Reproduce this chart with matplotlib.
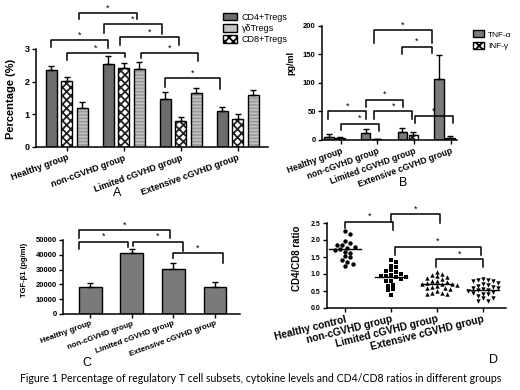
import matplotlib
matplotlib.use("Agg")
import matplotlib.pyplot as plt
import numpy as np

plt.rcParams['font.family'] = ['Liberation Sans', 'DejaVu Sans']
plt.rcParams['hatch.linewidth'] = 1.3

groups = ['Healthy group', 'non-cGVHD group', 'Limited cGVHD group', 'Extensive cGVHD group']
d_groups = ['Healthy control', 'non-cGVHD group', 'Limited cGVHD group', 'Extensive cGVHD group']

# panel A: Treg percentages
cd4_tregs = [2.35, 2.55, 1.48, 1.09]
cd4_err = [0.12, 0.22, 0.20, 0.13]
cd8_tregs = [2.02, 2.42, 0.81, 0.87]
cd8_err = [0.12, 0.14, 0.10, 0.15]
gd_tregs = [1.20, 2.38, 1.65, 1.58]
gd_err = [0.17, 0.22, 0.15, 0.17]

# panel B: cytokines (pg/ml)
tnf = [6, 13, 14.5, 107]
tnf_err = [4, 7, 7, 42]
inf = [3.5, 1.2, 8, 4]
inf_err = [1.5, 0.5, 6.5, 3]

# panel C: TGF-b1
tgf = [18000, 41000, 30400, 18500]
tgf_err = [2700, 2700, 4300, 3300]

# panel D: CD4/CD8 ratio per patient
ratio_healthy = [2.27, 2.18, 1.97, 1.9, 1.86, 1.85, 1.8, 1.76, 1.74, 1.7, 1.65, 1.63,
                 1.52, 1.5, 1.4, 1.36, 1.3, 1.24]
ratio_non = [1.4, 1.36, 1.25, 1.22, 1.12, 1.1, 1.05, 1.0, 0.97, 0.95, 0.94, 0.92, 0.9,
             0.85, 0.8, 0.8, 0.68, 0.65, 0.55, 0.52, 0.37]
ratio_limited = [1.07, 1.0, 0.97, 0.93, 0.9, 0.88, 0.85, 0.8, 0.78, 0.77, 0.75, 0.72,
                 0.7, 0.7, 0.68, 0.65, 0.62, 0.6, 0.58, 0.55, 0.5, 0.45, 0.44, 0.42, 0.4]
ratio_extensive = [0.85, 0.83, 0.82, 0.8, 0.78, 0.73, 0.7, 0.68, 0.65, 0.62, 0.6, 0.58,
                   0.55, 0.53, 0.52, 0.5, 0.48, 0.45, 0.42, 0.4, 0.35, 0.3, 0.28, 0.22, 0.2]
ratio_mean = [1.74, 0.92, 0.70, 0.53]

# significance brackets: (x1, x2, y, left leg end, right leg end)
brackets_a = [(0.21, 1.23, 4.1, 3.9, 3.9), (0.65, 1.67, 3.76, 3.5, 3.45),
              (-0.27, 0.72, 3.27, 3.07, 3.02), (0.93, 1.96, 3.36, 3.12, 3.12),
              (0.0, 1.02, 2.87, 2.66, 2.75), (1.3, 2.3, 2.87, 2.71, 2.64),
              (1.72, 2.68, 2.1, 1.84, 1.77)]
brackets_b = [(1.08, 2.65, 193, 171, 171), (1.85, 2.65, 164, 150, 152),
              (-0.17, 0.86, 50.6, 37, 37), (0.86, 1.86, 71, 58, 58),
              (0.17, 1.21, 28.5, 17, 15), (1.08, 2.12, 50.6, 37, 37),
              (2.19, 3.22, 42, 30, 30)]
brackets_c = [(-0.26, 1.92, 56760, 51150, 51150), (-0.26, 0.92, 48870, 43700, 45500),
              (1.04, 2.22, 48870, 45950, 42800), (2.0, 3.18, 41000, 38000, 34700)]
brackets_d = [(0.0, 1.05, 2.54, 2.34, 2.29), (1.0, 2.07, 2.76, 2.54, 2.51),
              (1.09, 2.95, 1.8, 1.56, 1.56), (1.98, 2.99, 1.44, 1.22, 1.22)]


def prism_axes(ax, top):
    for s in ['top', 'right']:
        ax.spines[s].set_visible(False)
    ax.spines['left'].set_bounds(0, top)
    ax.spines['left'].set_linewidth(1.1)
    ax.spines['bottom'].set_linewidth(1.1)
    ax.tick_params(direction='out', length=3, width=1, pad=1.5)


def bracket(ax, b, fs=6.5):
    x1, x2, y, y1, y2 = b
    ax.plot([x1, x1, x2, x2], [y1, y, y, y2], color='black', lw=1.1, clip_on=False)
    ax.annotate('*', ((x1 + x2) / 2, y), xytext=(0, 0.5), textcoords='offset points',
                ha='center', va='bottom', fontsize=fs)


def patterned_bar(ax, x, vals, err, width, fc, hatch, hc):
    ax.bar(x, vals, width, color=fc, edgecolor=hc, hatch=hatch, linewidth=0)
    ax.bar(x, vals, width, fill=False, edgecolor='black', linewidth=1)
    ax.errorbar(x, vals, yerr=[np.zeros(len(vals)), err], fmt='none', ecolor='black',
                capsize=2.5, elinewidth=1, capthick=1)


def swarm(vals, gap, yscale, step):
    # simple dot-plot layout: put each point as close to the centre as it fits
    placed = []
    xs = []
    for v in vals:
        k = 0
        while True:
            ok = None
            for cand in ([0.0] if k == 0 else [k * step, -k * step]):
                if all((cand - px) ** 2 + ((v - py) * yscale) ** 2 >= gap ** 2 for px, py in placed):
                    ok = cand
                    break
            if ok is not None:
                break
            k += 1
        placed.append((ok, v))
        xs.append(ok)
    return np.array(xs)


fig = plt.figure(figsize=(5.2, 3.9), dpi=100)
W, H = 520.0, 390.0

def rect(l, r, b, t):
    return [l / W, (H - b) / H, (r - l) / W, (b - t) / H]

pos = np.arange(4)

# ---- A
axA = fig.add_axes(rect(36, 268, 147, 6.4))
patterned_bar(axA, pos - 0.27, cd4_tregs, cd4_err, 0.19, '#6d6d6d', None, '#6d6d6d')
patterned_bar(axA, pos, cd8_tregs, cd8_err, 0.19, 'white', 'xxxx', '#222222')
patterned_bar(axA, pos + 0.27, gd_tregs, gd_err, 0.19, '#c4c4c4', '-----', '#9a9a9a')
axA.set_xlim(-0.54, 3.53)
axA.set_ylim(0, 4.3)
axA.set_yticks([0, 1, 2, 3])
axA.set_xticks(pos)
axA.set_xticklabels(groups, rotation=20, ha='right', rotation_mode='anchor',
                    fontsize=6.5, fontweight='bold')
axA.tick_params(axis='y', labelsize=6.5)
for t in axA.get_yticklabels():
    t.set_fontweight('bold')
axA.set_ylabel('Percentage (%)', fontsize=8, fontweight='bold', labelpad=2)
axA.yaxis.set_label_coords(-0.085, 0.34)
prism_axes(axA, 3)
for b in brackets_a:
    bracket(axA, b)

hA = [plt.Rectangle((0, 0), 1, 1, fc='#6d6d6d', ec='black', lw=1),
      plt.Rectangle((0, 0), 1, 1, fc='#c4c4c4', ec='black', lw=1),
      plt.Rectangle((0, 0), 1, 1, fc='white', ec='black', lw=1, hatch='xxxx')]
fig.legend(hA, ['CD4+Tregs', 'γδTregs', 'CD8+Tregs'], loc='upper left',
           bbox_to_anchor=(219 / W, 1 - 9 / H), frameon=False, fontsize=6.5,
           handlelength=1.6, handleheight=0.9, labelspacing=0.25, handletextpad=0.5,
           borderaxespad=0)

# ---- B
axB = fig.add_axes(rect(322, 457, 140, 11.75))
patterned_bar(axB, pos - 0.15, tnf, tnf_err, 0.26, '#7a7a7a', None, '#7a7a7a')
patterned_bar(axB, pos + 0.15, inf, inf_err, 0.26, 'white', 'xxxx', '#222222')
axB.set_xlim(-0.34, 3.34)
axB.set_ylim(0, 225)
axB.set_yticks([0, 50, 100, 150, 200])
axB.set_xticks(pos + 0.17)
axB.set_xticklabels(groups, rotation=20, ha='right', rotation_mode='anchor',
                    fontsize=6.2, fontweight='bold')
axB.tick_params(axis='y', labelsize=5.5)
for t in axB.get_yticklabels():
    t.set_fontweight('bold')
axB.set_ylabel('pg/ml', fontsize=6.5, fontweight='bold', labelpad=2)
axB.yaxis.set_label_coords(-0.2, 0.6)
prism_axes(axB, 200)
for b in brackets_b:
    bracket(axB, b)

hB = [plt.Rectangle((0, 0), 1, 1, fc='#7a7a7a', ec='black', lw=1),
      plt.Rectangle((0, 0), 1, 1, fc='white', ec='black', lw=1, hatch='xxxx')]
fig.legend(hB, ['TNF-α', 'INF-γ'], loc='upper left',
           bbox_to_anchor=(470 / W, 1 - 27 / H), frameon=False, fontsize=6,
           handlelength=1.3, handleheight=0.9, labelspacing=0.4, handletextpad=0.5,
           borderaxespad=0)

# ---- C
axC = fig.add_axes(rect(63, 240, 314, 225.2))
patterned_bar(axC, pos, tgf, tgf_err, 0.55, '#7a7a7a', None, '#7a7a7a')
axC.set_xlim(-0.65, 3.6)
axC.set_ylim(0, 60000)
axC.set_yticks([0, 10000, 20000, 30000, 40000, 50000])
axC.set_xticks(pos)
axC.set_xticklabels(groups, rotation=20, ha='right', rotation_mode='anchor',
                    fontsize=5.8, fontweight='bold')
axC.tick_params(axis='y', labelsize=5.5)
for t in axC.get_yticklabels():
    t.set_fontweight('bold')
axC.set_ylabel('TGF-β1 (pg/ml)', fontsize=5.5, fontweight='bold', labelpad=2)
axC.yaxis.set_label_coords(-0.2, 0.5)
prism_axes(axC, 50000)
for b in brackets_c:
    bracket(axC, b)

# ---- D
axD = fig.add_axes(rect(327, 506, 308, 209.4))
markers = ['o', 's', '^', 'v']
for i, vals in enumerate([ratio_healthy, ratio_non, ratio_limited, ratio_extensive]):
    xs = swarm(vals, 0.095, 34 / 46, 0.055)
    axD.scatter(i + xs, vals, marker=markers[i], s=10, color='black', linewidths=0, zorder=3)
    axD.plot([i - 0.34, i + 0.34], [ratio_mean[i]] * 2, color='black', lw=1, zorder=2)
axD.set_xlim(-0.39, 3.5)
axD.set_ylim(0, 2.9)
axD.set_yticks([0, 0.5, 1.0, 1.5, 2.0, 2.5])
axD.set_yticklabels(['0.0', '0.5', '1.0', '1.5', '2.0', '2.5'])
axD.set_xticks(pos)
axD.set_xticklabels(d_groups, rotation=14, ha='right', rotation_mode='anchor',
                    fontsize=7.3, fontweight='bold')
axD.tick_params(axis='y', labelsize=5)
for t in axD.get_yticklabels():
    t.set_fontweight('bold')
axD.set_ylabel('CD4/CD8 ratio', fontsize=7, fontweight='bold', labelpad=2)
axD.yaxis.set_label_coords(-0.14, 0.5)
prism_axes(axD, 2.5)
for b in brackets_d:
    bracket(axD, b)

# panel letters and caption
fig.text(117 / W, 1 - 193 / H, 'A', ha='center', va='center', fontsize=9)
fig.text(403 / W, 1 - 183 / H, 'B', ha='center', va='center', fontsize=9)
fig.text(87 / W, 1 - 363 / H, 'C', ha='center', va='center', fontsize=9)
fig.text(493 / W, 1 - 360 / H, 'D', ha='center', va='center', fontsize=9)
fig.text(261 / W, 1 - 378 / H,
         'Figure 1 Percentage of regulatory T cell subsets, cytokine levels and CD4/CD8 ratios in different groups',
         ha='center', va='center', fontsize=7.6, family=['Lato', 'DejaVu Sans'])

fig.savefig('out.png', dpi=100)
